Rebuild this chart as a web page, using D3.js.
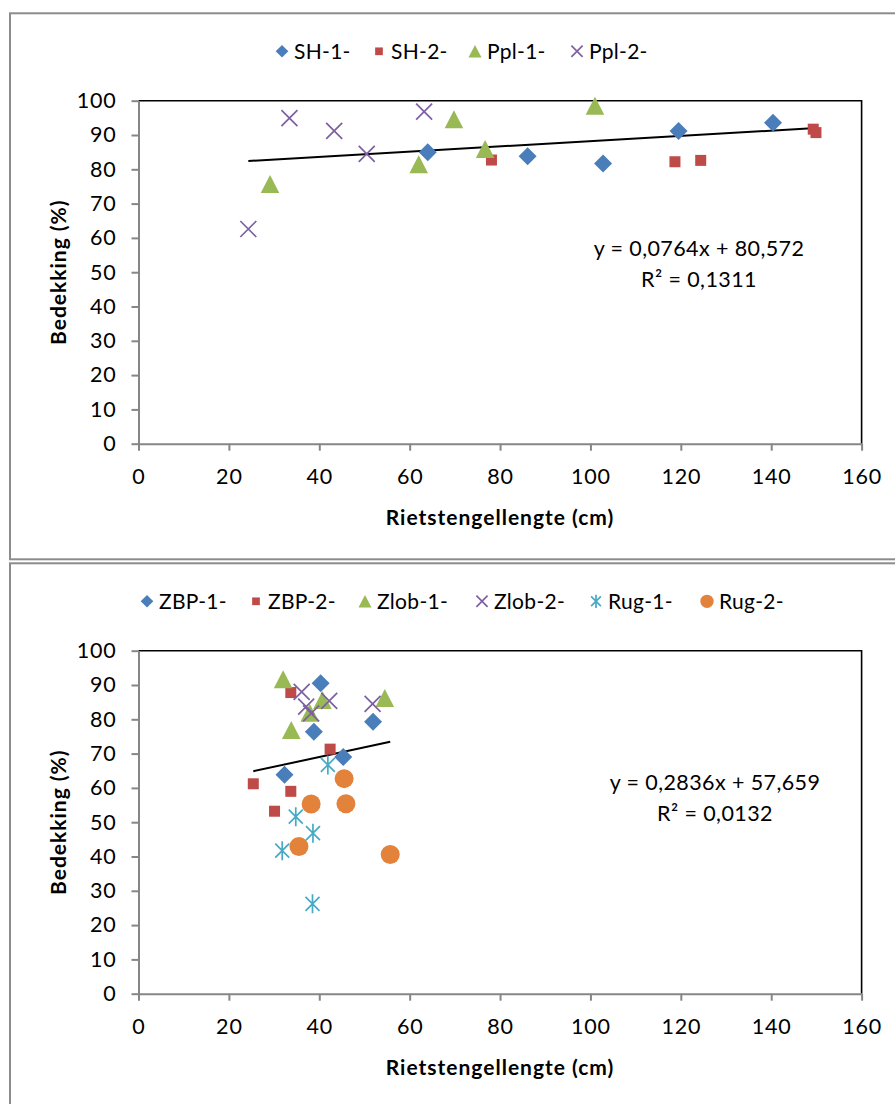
<!DOCTYPE html>
<html>
<head>
<meta charset="utf-8">
<script src="https://cdn.jsdelivr.net/npm/d3@7"></script>
<style>
  html, body { margin: 0; padding: 0; background: #fff; }
  svg { display: block; }
  text { font-family: Lato, "Open Sans", sans-serif; }
</style>
</head>
<body>
<svg id="chart" width="895" height="1104"></svg>
<script>
// ---------- DATA ----------
const xTicks = [0, 20, 40, 60, 80, 100, 120, 140, 160];
const yTicks = [0, 10, 20, 30, 40, 50, 60, 70, 80, 90, 100];
const xTitle = "Rietstengellengte (cm)";
const yTitle = "Bedekking (%)";

// Panel 1 series [length, cover]
const SH1  = [[64.0, 85.0], [86.1, 83.8], [102.8, 81.7], [119.5, 91.2], [140.4, 93.6]];
const SH2  = [[78.1, 82.7], [118.7, 82.2], [124.4, 82.6], [149.3, 91.7], [149.9, 90.7]];
const PPL1 = [[29.1, 75.7], [62.0, 81.5], [69.8, 94.6], [76.7, 85.9], [101.0, 98.5]];
const PPL2 = [[24.3, 62.6], [33.4, 94.9], [43.3, 91.2], [50.5, 84.5], [63.2, 96.8]];
const names1 = ["SH-1-", "SH-2-", "Ppl-1-", "Ppl-2-"];
const trend1 = { slope: 0.0764, intercept: 80.572, eq: "y = 0,0764x + 80,572", r2: "R² = 0,1311" };

// Panel 2 series
const ZBP1  = [[40.3, 90.5], [38.8, 76.4], [51.9, 79.3], [45.3, 69.0], [32.3, 63.8]];
const ZBP2  = [[33.7, 87.8], [42.4, 71.3], [25.4, 61.2], [33.7, 59.0], [30.1, 53.2]];
const ZLOB1 = [[32.0, 91.7], [40.7, 85.6], [37.9, 81.9], [33.8, 76.9], [54.5, 86.2]];
const ZLOB2 = [[36.1, 88.0], [37.1, 83.7], [38.2, 81.7], [42.2, 85.4], [51.8, 84.5]];
const RUG1  = [[41.9, 66.7], [34.8, 51.6], [38.6, 46.8], [31.8, 41.7], [38.5, 26.2]];
const RUG2  = [[45.5, 62.7], [38.2, 55.3], [45.9, 55.4], [35.5, 42.9], [55.7, 40.6]];
const names2 = ["ZBP-1-", "ZBP-2-", "Zlob-1-", "Zlob-2-", "Rug-1-", "Rug-2-"];
const trend2 = { slope: 0.2836, intercept: 57.659, eq: "y = 0,2836x + 57,659", r2: "R² = 0,0132" };

// ---------- STYLE ----------
const COL = { blue: "#4A7EBB", red: "#BE4B48", green: "#98B954", purple: "#7D60A0", teal: "#46AAC5", orange: "#E3823A" };
const markerTypes = ["diamond", "square", "triangle", "x", "asterisk", "circle"];
const markerCols = [COL.blue, COL.red, COL.green, COL.purple, COL.teal, COL.orange];

const svg = d3.select("#chart");

function drawMarker(g, type, color, s) {
  if (type === "diamond") {
    const r = 9 * s;
    g.append("path").attr("d", `M0,${-r}L${r},0L0,${r}L${-r},0Z`).attr("fill", color);
  } else if (type === "square") {
    const h = 5.5 * s;
    g.append("rect").attr("x", -h).attr("y", -h).attr("width", 2 * h).attr("height", 2 * h).attr("fill", color);
  } else if (type === "triangle") {
    const w = 9.3 * s, h = 9 * s;
    g.append("path").attr("d", `M0,${-h}L${w},${h}L${-w},${h}Z`).attr("fill", color);
  } else if (type === "x") {
    const r = 8 * s;
    g.append("path").attr("d", `M${-r},${-r}L${r},${r}M${-r},${r}L${r},${-r}`)
      .attr("stroke", color).attr("stroke-width", 1.7).attr("fill", "none");
  } else if (type === "asterisk") {
    const r = 7 * s, v = 9.5 * s;
    g.append("path").attr("d", `M${-r},${-r}L${r},${r}M${-r},${r}L${r},${-r}M0,${-v}L0,${v}`)
      .attr("stroke", color).attr("stroke-width", 1.7).attr("fill", "none");
  } else if (type === "circle") {
    g.append("circle").attr("r", 9.5 * s).attr("fill", color);
  }
}

function drawPanel(opts) {
  const { top, series, names, trend, legendX, eqX, eqY } = opts;
  svg.append("rect").attr("x", 10).attr("y", top).attr("width", 900).attr("height", opts.frameH)
    .attr("fill", "#fff").attr("stroke", "#8C8C8C").attr("stroke-width", 2);

  const x = d3.scaleLinear().domain([0, 160]).range([138.5, 861.6]);
  const y = d3.scaleLinear().domain([0, 100]).range([top + 430.4, top + 87.4]);

  svg.append("path")
    .attr("d", `M${x(0)},${y(100)}L${x(160)},${y(100)}L${x(160)},${y(0)}`)
    .attr("fill", "none").attr("stroke", "#000").attr("stroke-width", 1.6);

  const gy = svg.append("g").attr("transform", `translate(${x(0)},0)`)
    .call(d3.axisLeft(y).tickValues(yTicks).tickSize(7).tickSizeOuter(0).tickPadding(15).tickFormat(d3.format("d")));
  const gx = svg.append("g").attr("transform", `translate(0,${y(0)})`)
    .call(d3.axisBottom(x).tickValues(xTicks).tickSize(7).tickSizeOuter(0).tickPadding(18).tickFormat(d3.format("d")));
  [gx, gy].forEach(g => {
    g.select(".domain").attr("stroke", "#868686").attr("stroke-width", 2);
    g.selectAll(".tick line").attr("stroke", "#868686").attr("stroke-width", 2);
    g.selectAll(".tick text").attr("fill", "#000").style("font-size", "21.5px")
      .style("letter-spacing", "0.8px").style("font-family", "Lato, sans-serif");
  });

  svg.append("text").attr("x", (x(0) + x(160)) / 2).attr("y", y(0) + 81)
    .attr("text-anchor", "middle").style("font-size", "21px").style("letter-spacing", "1px")
    .style("font-weight", "bold").text(xTitle);
  svg.append("text").attr("transform", `translate(66,${(y(0) + y(100)) / 2}) rotate(-90)`)
    .attr("text-anchor", "middle").style("font-size", "21px").style("letter-spacing", "1px")
    .style("font-weight", "bold").text(yTitle);

  const all = series.flat();
  const [xmin, xmax] = d3.extent(all, d => d[0]);
  const line = d3.line().x(d => x(d)).y(d => y(trend.slope * d + trend.intercept));
  svg.append("path").attr("d", line([xmin, xmax])).attr("fill", "none").attr("stroke", "#000").attr("stroke-width", 2);

  series.forEach((s, i) => {
    s.forEach(d => {
      const g = svg.append("g").attr("transform", `translate(${x(d[0])},${y(d[1])})`);
      drawMarker(g, markerTypes[i], markerCols[i], 1);
    });
  });

  svg.append("text").attr("x", eqX).attr("y", eqY).attr("text-anchor", "middle")
    .style("font-size", "21.5px").style("letter-spacing", "0.4px").text(trend.eq);
  svg.append("text").attr("x", eqX).attr("y", eqY + 31).attr("text-anchor", "middle")
    .style("font-size", "21.5px").style("letter-spacing", "0.4px").text(trend.r2);

  const ly = top + 38;
  names.forEach((n, i) => {
    const g = svg.append("g").attr("transform", `translate(${legendX[i]},${ly})`);
    drawMarker(g, markerTypes[i], markerCols[i], 0.7);
    g.append("text").attr("x", 12).attr("y", 0).attr("dy", "0.35em")
      .style("font-size", "21px").style("letter-spacing", "0.3px").text(n);
  });
}

drawPanel({
  top: 13.3, frameH: 546, series: [SH1, SH2, PPL1, PPL2], names: names1, trend: trend1,
  legendX: [282, 379, 475, 577], eqX: 699, eqY: 256
});
drawPanel({
  top: 563.3, frameH: 560, series: [ZBP1, ZBP2, ZLOB1, ZLOB2, RUG1, RUG2], names: names2, trend: trend2,
  legendX: [147, 256, 365, 482, 596, 707], eqX: 715, eqY: 790
});
</script>
</body>
</html>
